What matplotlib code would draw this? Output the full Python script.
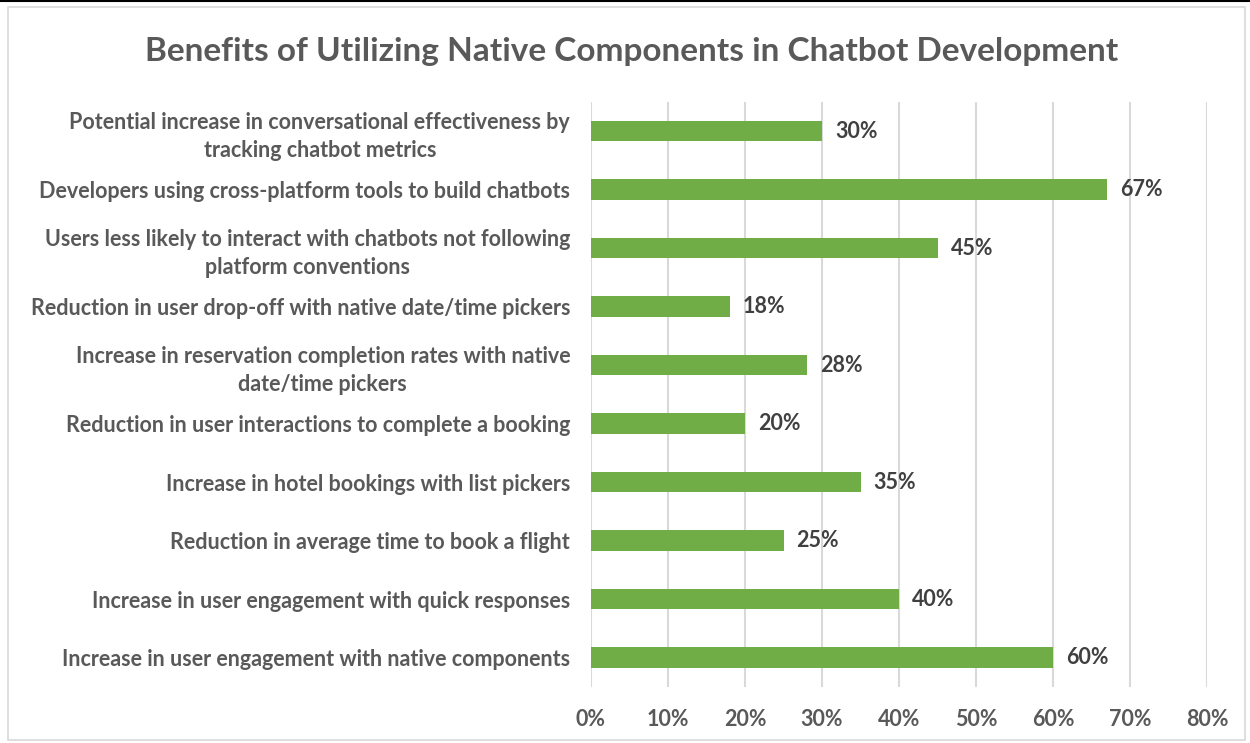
import matplotlib.pyplot as plt
from matplotlib.patches import Rectangle
from matplotlib.lines import Line2D

# Data (bottom to top, as drawn)
categories = [
    "Increase in user engagement with native components",
    "Increase in user engagement with quick responses",
    "Reduction in average time to book a flight",
    "Increase in hotel bookings with list pickers",
    "Reduction in user interactions to complete a booking",
    "Increase in reservation completion rates with native\ndate/time pickers",
    "Reduction in user drop-off with native date/time pickers",
    "Users less likely to interact with chatbots not following\nplatform conventions",
    "Developers using cross-platform tools to build chatbots",
    "Potential increase in conversational effectiveness by\ntracking chatbot metrics",
]
values = [60, 40, 25, 35, 20, 28, 18, 45, 67, 30]
xticks = [0, 10, 20, 30, 40, 50, 60, 70, 80]

text_color = "#595959"
bar_color = "#70AD47"
plt.rcParams["font.family"] = ["Lato", "DejaVu Sans"]
plt.rcParams["font.weight"] = "bold"

fig = plt.figure(figsize=(12.5, 7.43), dpi=100)
ax = fig.add_axes([0.4728, 0.0754, 0.4928, 0.7876])

y = range(len(categories))
ax.barh(y, values, height=0.35, color=bar_color, zorder=3)
for i, v in zip(y, values):
    ax.text(v + 1.7, i, f"{v}%", va="center", ha="left", fontsize=15.5,
            color="#404040", fontweight="bold")

ax.set_xlim(0, 80)
ax.set_ylim(-0.5, len(categories) - 0.5)
ax.set_xticks(xticks)
ax.set_xticklabels([f"{t}%" for t in xticks])
ax.set_yticks(list(y))
ax.set_yticklabels(categories, linespacing=1.4)
ax.tick_params(axis="both", length=0, labelsize=15.5, labelcolor=text_color)
ax.tick_params(axis="x", pad=16)
ax.tick_params(axis="y", pad=15)
for lab in ax.get_yticklabels():
    lab.set_horizontalalignment("right")
    lab.set_multialignment("center")
ax.grid(axis="x", color="#D9D9D9", linewidth=1.5, zorder=0)
for s in ax.spines.values():
    s.set_visible(False)

fig.text(0.505, 0.931, "Benefits of Utilizing Native Components in Chatbot Development",
         ha="center", va="center", fontsize=24, color=text_color, fontweight="bold")

# chart border and top line
fig.patches.append(Rectangle((0.006, 0.004), 0.99, 0.987, transform=fig.transFigure,
                             fill=False, edgecolor="#D9D9D9", linewidth=1.2))
fig.lines.append(Line2D([0, 1], [0.998, 0.998], transform=fig.transFigure,
                        color="black", linewidth=1.5))

fig.savefig("out.png", dpi=100)
